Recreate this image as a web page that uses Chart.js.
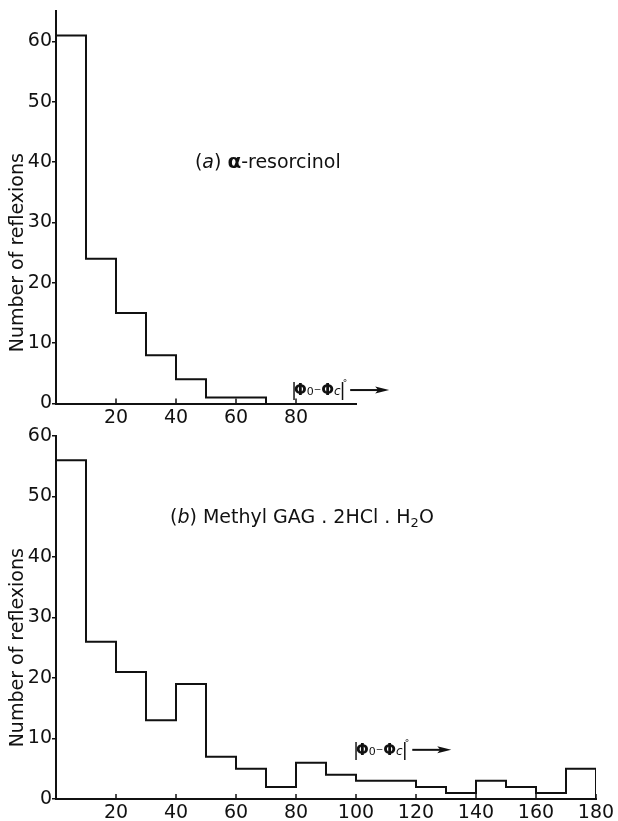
<!DOCTYPE html>
<html>
<head>
<meta charset="utf-8">
<script src="https://cdn.jsdelivr.net/npm/chart.js@4"></script>
<style>
    body { margin: 0; background: #fff; width: 618px; height: 821px; overflow: hidden; position: relative; }
    canvas { position: absolute; left: 0; }
    #chartA { top: 0; }
    #chartB { top: 410px; }
</style>
</head>
<body>
<canvas id="chartA" width="618" height="440"></canvas>
<canvas id="chartB" width="618" height="411"></canvas>
<script>
// --- Datos ---
const anchoIntervalo = 10;
const inicioIntervalosA = [0, 10, 20, 30, 40, 50, 60];
const conteosA = [61, 24, 15, 8, 4, 1, 1];
const inicioIntervalosB = [0, 10, 20, 30, 40, 50, 60, 70, 80, 90, 100, 110, 120, 130, 140, 150, 160, 170];
const conteosB = [56, 26, 21, 13, 19, 7, 5, 2, 6, 4, 3, 3, 2, 1, 3, 2, 1, 5];
const ticksXA = [20, 40, 60, 80];
const ticksXB = [20, 40, 60, 80, 100, 120, 140, 160, 180];
const ticksY = [0, 10, 20, 30, 40, 50, 60];
const tituloY = "Number of reflexions";

// --- Utilidades ---
const FUENTE = '"DejaVu Sans", sans-serif';
const NEGRO = '#111';

function puntosHistograma(inicios, conteos) {
    const puntos = inicios.map((x, i) => ({ x, y: conteos[i] }));
    puntos.push({ x: inicios[inicios.length - 1] + anchoIntervalo, y: 0 });
    return puntos;
}

// marcas del eje x hacia dentro
const marcasInternasX = {
    id: 'marcasInternasX',
    afterDraw(chart) {
        const { ctx, chartArea, scales: { x } } = chart;
        ctx.save();
        ctx.strokeStyle = NEGRO;
        ctx.lineWidth = 1.5;
        x.ticks.forEach(t => {
            const px = x.getPixelForValue(t.value);
            ctx.beginPath();
            ctx.moveTo(px, chartArea.bottom);
            ctx.lineTo(px, chartArea.bottom - 5);
            ctx.stroke();
        });
        ctx.restore();
    }
};

function dibujarPartes(ctx, partes, x, y) {
    partes.forEach(p => {
        ctx.font = p.font;
        ctx.fillText(p.t, x, y + (p.dy || 0));
        x += ctx.measureText(p.t).width + (p.sep || 0);
    });
    return x;
}

const partesFase = [
    { t: "|", font: `18px ${FUENTE}`, sep: -3, dy: 1 },
    { t: "Φ", font: `bold 15px ${FUENTE}`, sep: 0 },
    { t: "0", font: `11px ${FUENTE}`, sep: 0 },
    { t: "−", font: `9px ${FUENTE}`, dy: -3 },
    { t: "Φ", font: `bold 15px ${FUENTE}`, sep: 0 },
    { t: "c", font: `italic 12px ${FUENTE}`, sep: -1 },
    { t: "|", font: `18px ${FUENTE}`, sep: -3, dy: 1 },
    { t: "°", font: `9px ${FUENTE}`, dy: -9 }
];

const rotulos = {
    id: 'rotulos',
    afterDraw(chart, args, opts) {
        const { ctx, scales: { x, y } } = chart;
        ctx.save();
        ctx.fillStyle = NEGRO;
        ctx.textBaseline = 'alphabetic';
        ctx.textAlign = 'left';

        // titulo del eje y
        ctx.save();
        ctx.translate(18, y.getPixelForValue(25));
        ctx.rotate(-Math.PI / 2);
        ctx.textAlign = 'center';
        ctx.textBaseline = 'middle';
        ctx.font = `19px ${FUENTE}`;
        ctx.fillText(tituloY, 0, 0);
        ctx.restore();

        // nombre del compuesto
        const e = opts.etiqueta;
        dibujarPartes(ctx, e.partes, x.getPixelForValue(e.x), y.getPixelForValue(e.y));

        // |Φo - Φc|° con flecha
        const f = opts.fase;
        const fx = x.getPixelForValue(f.x), fy = y.getPixelForValue(f.y);
        const fin = dibujarPartes(ctx, partesFase, fx, fy);
        const ay = fy - 5;
        ctx.strokeStyle = NEGRO;
        ctx.lineWidth = 2;
        ctx.beginPath();
        ctx.moveTo(fin + 3, ay);
        ctx.lineTo(fin + 32, ay);
        ctx.stroke();
        ctx.beginPath();
        ctx.moveTo(fin + 42, ay);
        ctx.lineTo(fin + 28, ay - 3.5);
        ctx.lineTo(fin + 31, ay);
        ctx.lineTo(fin + 28, ay + 3.5);
        ctx.closePath();
        ctx.fill();
        ctx.restore();
    }
};

function crearHistograma(idCanvas, inicios, conteos, cfg) {
    const ctx = document.getElementById(idCanvas).getContext("2d");
    return new Chart(ctx, {
        type: "line",
        data: {
            datasets: [{
                data: puntosHistograma(inicios, conteos),
                stepped: true,
                borderColor: NEGRO,
                borderWidth: 2,
                pointRadius: 0,
                fill: false
            }]
        },
        options: {
            responsive: false,
            animation: false,
            layout: { padding: { top: cfg.arriba, right: cfg.derecha, left: 0, bottom: 0 } },
            plugins: {
                legend: { display: false },
                tooltip: { enabled: false },
                rotulos: { etiqueta: cfg.etiqueta, fase: cfg.fase }
            },
            scales: {
                x: {
                    type: "linear",
                    min: 0,
                    max: cfg.xMax,
                    afterBuildTicks: s => { s.ticks = cfg.ticksX.map(v => ({ value: v })); },
                    afterFit: s => { s.height = cfg.altoEjeX; },
                    grid: { display: false, drawTicks: false },
                    border: { display: true, color: NEGRO, width: 2 },
                    ticks: { color: NEGRO, font: { family: FUENTE, size: 19 }, padding: 3, maxRotation: 0 }
                },
                y: {
                    min: 0,
                    max: cfg.yMax,
                    afterBuildTicks: s => { s.ticks = ticksY.map(v => ({ value: v })); },
                    afterFit: s => { s.width = 56; },
                    grid: { display: true, drawOnChartArea: false, drawTicks: true, tickLength: 4, color: NEGRO, lineWidth: 1.5 },
                    border: { display: true, color: NEGRO, width: 2 },
                    ticks: { color: NEGRO, font: { family: FUENTE, size: 19 }, padding: 0 }
                }
            }
        },
        plugins: [marcasInternasX, rotulos]
    });
}

// --- Principal ---
crearHistograma("chartA", inicioIntervalosA, conteosA, {
    xMax: 100, yMax: 65, ticksX: ticksXA,
    arriba: 10, derecha: 262, altoEjeX: 440 - 403.5,
    etiqueta: {
        x: 46.3, y: 39.1,
        partes: [
            { t: "(", font: `19px ${FUENTE}` },
            { t: "a", font: `italic 19px ${FUENTE}` },
            { t: ") ", font: `19px ${FUENTE}` },
            { t: "α", font: `bold 20px ${FUENTE}` },
            { t: "-resorcinol", font: `19px ${FUENTE}` }
        ]
    },
    fase: { x: 78.3, y: 1.4 }
});

crearHistograma("chartB", inicioIntervalosB, conteosB, {
    xMax: 180, yMax: 60, ticksX: ticksXB,
    arriba: 26, derecha: 22, altoEjeX: 411 - 389,
    etiqueta: {
        x: 38, y: 45.6,
        partes: [
            { t: "(", font: `19px ${FUENTE}` },
            { t: "b", font: `italic 19px ${FUENTE}` },
            { t: ") Methyl GAG . 2HCl . H", font: `19px ${FUENTE}` },
            { t: "2", font: `13px ${FUENTE}`, dy: 4 },
            { t: "O", font: `19px ${FUENTE}` }
        ]
    },
    fase: { x: 99, y: 7.3 }
});
</script>
</body>
</html>
